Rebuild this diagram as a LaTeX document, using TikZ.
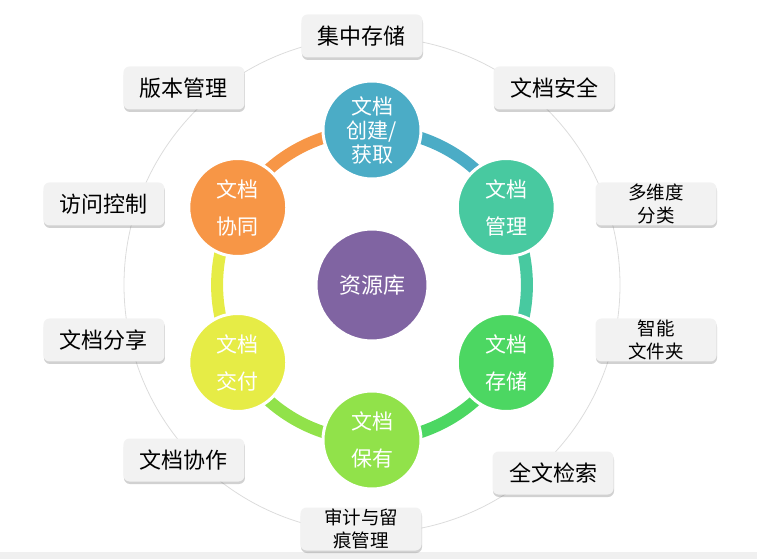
\documentclass[tikz,border=0pt]{standalone}
\usepackage{fontspec}
\setmainfont{Noto Sans CJK SC}
\usetikzlibrary{shadows, backgrounds}
\definecolor{cCreate}{RGB}{75,172,198}
\definecolor{cManage}{RGB}{72,201,160}
\definecolor{cStore}{RGB}{76,215,98}
\definecolor{cKeep}{RGB}{145,226,74}
\definecolor{cDeliver}{RGB}{230,236,70}
\definecolor{cCollab}{RGB}{247,150,70}
\definecolor{cLib}{RGB}{128,100,162}
\definecolor{boxgray}{RGB}{242,242,242}
\definecolor{ringgray}{RGB}{220,220,220}
\tikzset{
  stage/.style={circle, draw=white, line width=3pt, minimum size=98pt, inner sep=0pt, align=center, text=white, font=\fontsize{21}{37}\selectfont},
  hub/.style  ={circle, fill=cLib, draw=white, line width=3pt, minimum size=112pt, inner sep=0pt, text=white, font=\fontsize{22}{26}\selectfont},
  link/.style ={line width=12pt, bend left=30, looseness=0.913},
  orbit/.style={draw=ringgray, line width=0.8pt},
  tag/.style  ={fill=boxgray, rounded corners=6pt, minimum width=121pt, minimum height=43pt, inner sep=0pt, align=center,
                font=\fontsize{22}{26}\selectfont, drop shadow={shadow xshift=0.5pt, shadow yshift=-2.5pt, opacity=0.3, fill=black!60}},
  tagtwo/.style={tag, font=\fontsize{18.5}{22.5}\selectfont},
}
\begin{document}
\begin{tikzpicture}[x=1pt, y=1pt]
  \useasboundingbox (-372,-274) rectangle (385,285);
  % hub and life-cycle stages
  \node[hub] (lib) at (0,0) {资源库};
  \node[stage, fill=cCreate, font=\fontsize{21}{24}\selectfont] (create) at (90:155) {文档\\创建/\\获取};
  \node[stage, fill=cManage]  (manage)  at (30:155)   {文档\\管理};
  \node[stage, fill=cStore]   (store)   at (-30:155)  {文档\\存储};
  \node[stage, fill=cKeep]    (keep)    at (-90:155)  {文档\\保有};
  \node[stage, fill=cDeliver] (deliver) at (-150:155) {文档\\交付};
  \node[stage, fill=cCollab]  (collab)  at (150:155)  {文档\\协同};
  % feature tags on the outer ring
  \node[tag]    (central) at (-10,249)  {集中存储};
  \node[tag]    (version) at (-188,197) {版本管理};
  \node[tag]    (secure)  at (182,197)  {文档安全};
  \node[tag]    (access)  at (-268,81)  {访问控制};
  \node[tagtwo] (multi)   at (284,81)   {多维度\\分类};
  \node[tag]    (share)   at (-268,-55) {文档分享};
  \node[tagtwo] (smart)   at (284,-55)  {智能\\文件夹};
  \node[tag]    (cowork)  at (-188,-175) {文档协作};
  \node[tag]    (search)  at (181,-188) {全文检索};
  \node[tagtwo] (audit)   at (-11,-244) {审计与留\\痕管理};
  \begin{scope}[on background layer]
    \fill[black!6] (-372,-274) rectangle (385,-267);
    \draw[orbit] (lib.center) circle[radius=248];
    \draw[link, cCreate]  (create.center)  to (manage.center);
    \draw[link, cManage]  (manage.center)  to (store.center);
    \draw[link, cStore]   (store.center)   to (keep.center);
    \draw[link, cKeep]    (keep.center)    to (deliver.center);
    \draw[link, cDeliver] (deliver.center) to (collab.center);
    \draw[link, cCollab]  (collab.center)  to (create.center);
  \end{scope}
\end{tikzpicture}
\end{document}
